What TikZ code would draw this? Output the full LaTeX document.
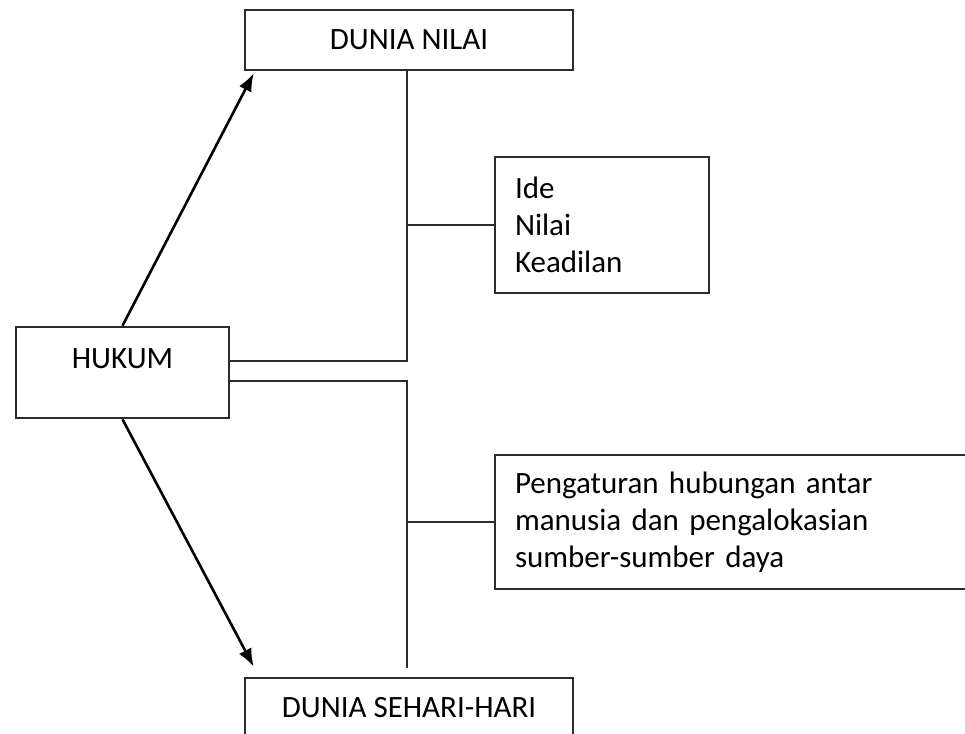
\documentclass[tikz,border=0pt]{standalone}
\usepackage{fontspec}
\setmainfont{Carlito}
\usetikzlibrary{positioning, arrows.meta}
\definecolor{garis}{HTML}{2B2B2B}

\begin{document}
\begin{tikzpicture}[x=0.5pt, y=-0.5pt,
      kotak/.style={draw=garis, line width=1.3pt, fill=white, text=black,
        font=\fontsize{15.5pt}{18.5pt}\selectfont, inner sep=0pt},
      isi/.style={kotak, align=left, inner xsep=10pt},
      garisan/.style={draw=garis, line width=1.3pt},
      panah/.style={-{Latex[length=9pt, width=7pt]}, black, line width=1.3pt}]
    \clip (0,0) rectangle (965,734);
    \fill[white] (0,0) rectangle (965,734);
    % kotak utama
    \node[kotak, minimum width=164pt, minimum height=30pt] (nilai) at (409,40) {DUNIA NILAI};
    \node[kotak, minimum width=106.5pt, minimum height=45.5pt,
      text height=10pt, text depth=14.5pt] (hukum) at (122.5,372.5) {HUKUM};
    \node[kotak, minimum width=164pt, minimum height=30pt] (sehari) at (409,708) {DUNIA SEHARI-HARI};
    % kotak keterangan
    \node[isi, text width=87pt, minimum height=68pt] (ide) at (602,225) {Ide\\Nilai\\Keadilan};
    \node[isi, text width=220pt, minimum height=67pt] (daya) at (735,522)
      {Pengaturan hubungan antar\\manusia dan pengalokasian\\sumber-sumber daya};
    % titik sambung
    \coordinate (j1) at (407,361);
    \coordinate (j2) at (407,381);
    \coordinate (ujung) at (407,668);
    \draw[garisan] (nilai.south -| j1) -- (j1) -- (hukum.east |- j1);
    \draw[garisan] (hukum.east |- j2) -- (j2) -- (ujung);
    \draw[garisan] (ide.west) -- (ide.west -| j1);
    \draw[garisan] (daya.west) -- (daya.west -| j2);
    % panah
    \draw[panah] (hukum.north) -- ([shift={(5pt,-1pt)}]nilai.south west);
    \draw[panah] (hukum.south) -- ([shift={(5pt,5pt)}]sehari.north west);
  \end{tikzpicture}
\end{document}
